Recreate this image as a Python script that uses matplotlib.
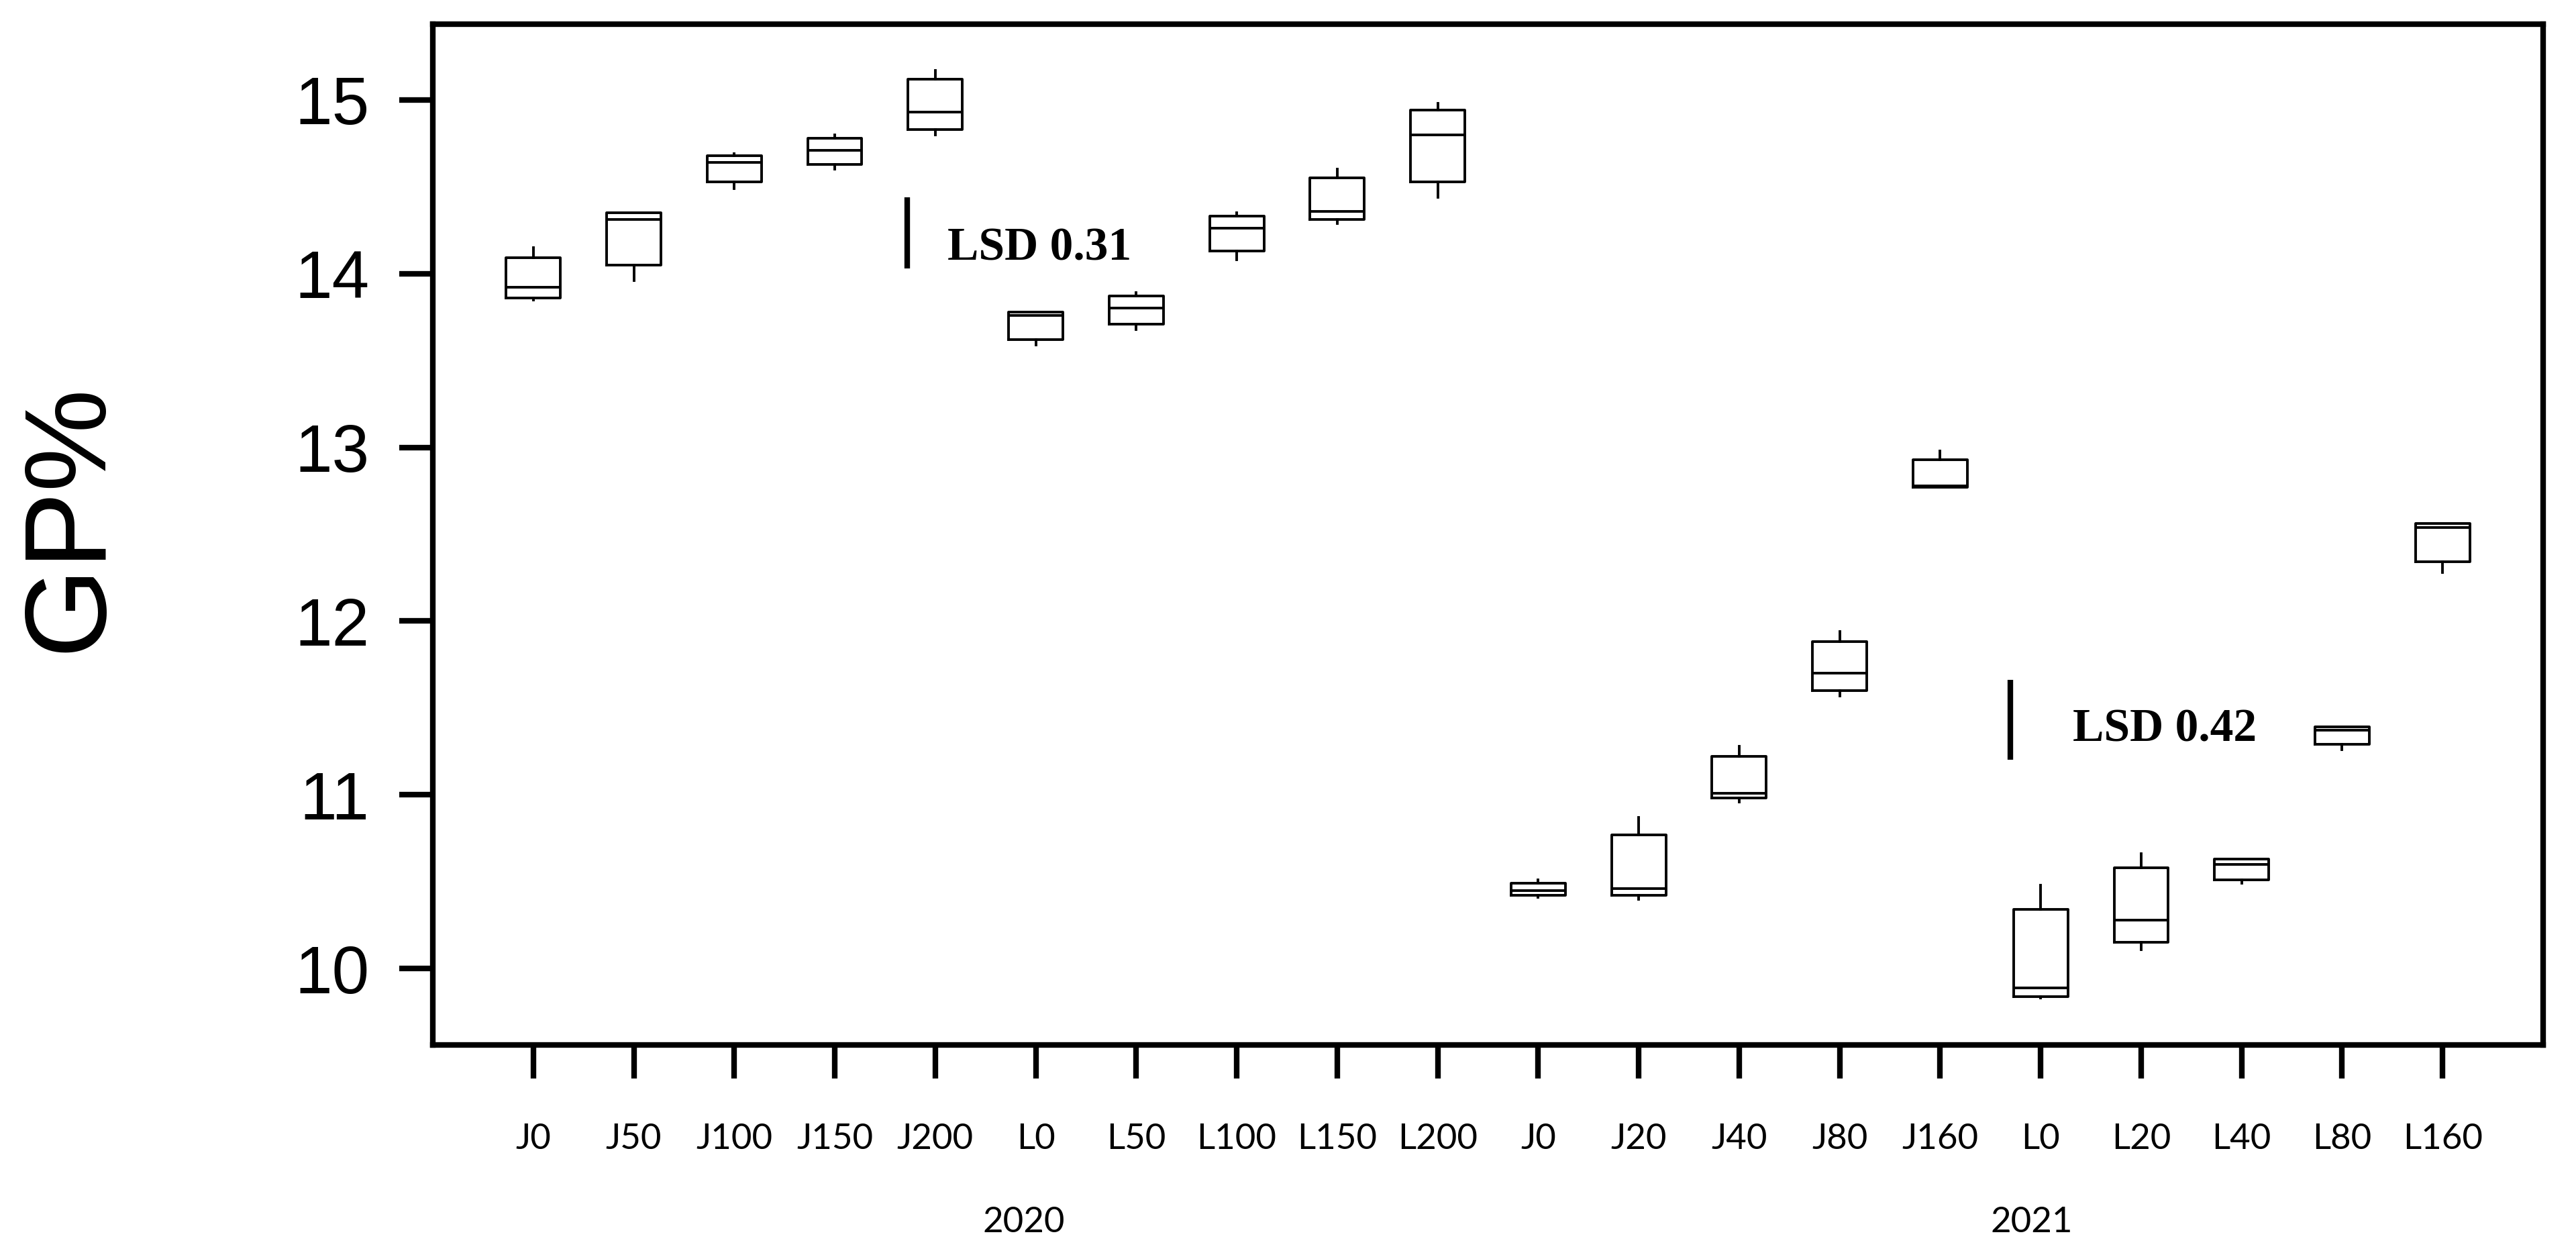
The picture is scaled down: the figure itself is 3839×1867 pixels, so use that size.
import matplotlib
matplotlib.use("Agg")
import matplotlib.pyplot as plt
import matplotlib.transforms as mtransforms

# ---- data ----
labels = ['J0', 'J50', 'J100', 'J150', 'J200', 'L0', 'L50', 'L100', 'L150', 'L200',
          'J0', 'J20', 'J40', 'J80', 'J160', 'L0', 'L20', 'L40', 'L80', 'L160']
whislo = [13.85, 13.96, 14.49, 14.60, 14.80, 13.59, 13.68, 14.08, 14.29, 14.44,
          10.41, 10.40, 10.96, 11.57, 12.77, 9.83, 10.11, 10.49, 11.26, 12.28]
q1 = [13.86, 14.05, 14.53, 14.63, 14.83, 13.62, 13.71, 14.13, 14.31, 14.53,
      10.42, 10.42, 10.98, 11.60, 12.77, 9.84, 10.15, 10.51, 11.29, 12.34]
med = [13.92, 14.31, 14.64, 14.71, 14.93, 13.76, 13.80, 14.26, 14.36, 14.80,
       10.45, 10.46, 11.01, 11.70, 12.78, 9.89, 10.28, 10.60, 11.37, 12.54]
q3 = [14.09, 14.35, 14.68, 14.78, 15.12, 13.78, 13.87, 14.33, 14.55, 14.94,
      10.49, 10.77, 11.22, 11.88, 12.93, 10.34, 10.58, 10.63, 11.39, 12.56]
whishi = [14.15, 14.35, 14.69, 14.80, 15.17, 13.78, 13.89, 14.35, 14.60, 14.98,
          10.51, 10.87, 11.28, 11.94, 12.98, 10.48, 10.66, 10.63, 11.39, 12.56]
years = ['2020', '2021']
year_pos = [5.88, 15.91]
lsd_text = ['LSD 0.31', 'LSD 0.42']
lsd_x = [4.72, 15.70]
lsd_lo = [14.03, 11.20]
lsd_hi = [14.44, 11.66]
lsd_text_x = [5.12, 16.32]
lsd_text_y = [14.08, 11.31]
yticks = [10, 11, 12, 13, 14, 15]

W, H, DPI = 3839, 1867, 200
fig = plt.figure(figsize=(W / DPI, H / DPI), dpi=DPI)
L, R, T, B = 645, 3790, 36, 1557
ax = fig.add_axes([L / W, 1 - B / H, (R - L) / W, (B - T) / H])

positions = list(range(1, len(labels) + 1))
stats = []
for i in range(len(labels)):
    stats.append(dict(med=med[i], q1=q1[i], q3=q3[i], whislo=whislo[i],
                      whishi=whishi[i], fliers=[], label=labels[i]))

lw = 1.4
ax.bxp(stats, positions=positions, widths=0.54, showcaps=False, showfliers=False,
       boxprops=dict(color='black', linewidth=lw),
       whiskerprops=dict(color='black', linewidth=lw),
       medianprops=dict(color='black', linewidth=lw))

# LSD bars
for x, lo, hi, t, tx, ty in zip(lsd_x, lsd_lo, lsd_hi, lsd_text, lsd_text_x, lsd_text_y):
    ax.vlines(x, lo, hi, color='black', linewidth=3.0)
    ax.text(tx, ty, t, fontsize=25, fontweight='bold', family='Liberation Serif',
            ha='left', va='baseline', color='black')

ax.set_xlim(0, 21)
ax.set_ylim(9.56, 15.436)
ax.set_yticks(yticks)
ax.set_yticklabels([str(v) for v in yticks], fontsize=36, family='Liberation Sans')
ax.set_xticks(positions)
ax.set_xticklabels(labels, fontsize=19, family='Lato')

for s in ax.spines.values():
    s.set_linewidth(3.0)
    s.set_color('black')
ax.tick_params(axis='both', direction='out', length=18, width=3.0, color='black')
ax.tick_params(axis='y', pad=16)
ax.tick_params(axis='x', pad=24)

ax.set_ylabel('GP%', fontsize=62, family='Liberation Sans', va='center', ha='center')
ax.yaxis.set_label_coords(-0.1717, 0.517)

trans = mtransforms.blended_transform_factory(ax.transData, ax.transAxes)
for yr, xp in zip(years, year_pos):
    ax.text(xp, -0.174, yr, transform=trans, fontsize=19, family='Lato',
            ha='center', va='center')

fig.savefig('out.png', dpi=DPI, facecolor='white')
